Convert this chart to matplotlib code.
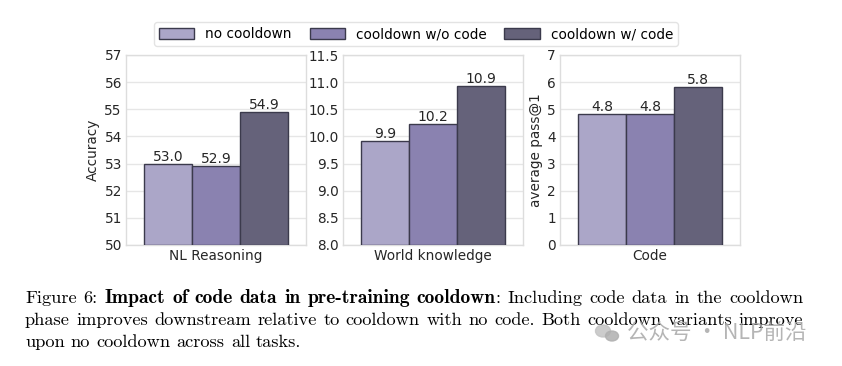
import numpy as np
import matplotlib.pyplot as plt
from matplotlib.patches import Patch, Ellipse

tasks = ["NL Reasoning", "World knowledge", "Code"]
variants = ["no cooldown", "cooldown w/o code", "cooldown w/ code"]
scores = [
    [53.0, 52.9, 54.9],
    [9.92, 10.22, 10.92],
    [4.83, 4.82, 5.83],
]
ylims = [(50, 57), (8.0, 11.5), (0, 7)]
ystep = [1, 0.5, 1]
ylabels = ["Accuracy", "", "average pass@1"]
colors = ["#aba6c8", "#8a82b0", "#65627a"]
edge = "#3b3a4c"

W, H = 842, 366
fig = plt.figure(figsize=(W / 100, H / 100), dpi=100)
lefts = [126, 343, 560]
width = 180 / W
bottom = 1 - 245 / H
height = (245 - 55) / H
fs = 9.8

for i, task in enumerate(tasks):
    ax = fig.add_axes([lefts[i] / W, bottom, width, height])
    w = 0.8 / 3
    for j, v in enumerate(scores[i]):
        x = -0.4 + w / 2 + j * w
        ax.bar(x, v - ylims[i][0], w, bottom=ylims[i][0], color=colors[j],
               edgecolor=edge, linewidth=1.0, zorder=3)
        ax.text(x, v, f"{v:.1f}", ha="center", va="bottom", fontsize=10,
                color="#262626", zorder=4)
    ax.set_xlim(-0.5, 0.5)
    ax.set_ylim(*ylims[i])
    lo, hi = ylims[i]
    ticks = np.arange(lo, hi + ystep[i] / 2, ystep[i])
    ax.set_yticks(ticks)
    if ystep[i] < 1:
        ax.set_yticklabels([f"{t:.1f}" for t in ticks])
    else:
        ax.set_yticklabels([f"{int(t)}" for t in ticks])
    ax.set_xticks([0])
    ax.set_xticklabels([task])
    ax.tick_params(axis="both", labelsize=fs, length=0, colors="#262626", pad=3)
    ax.grid(axis="y", color="#e6e6e6", linewidth=1, zorder=0)
    for s in ax.spines.values():
        s.set_color("#dddddd")
        s.set_linewidth(1)
    if ylabels[i]:
        ax.set_ylabel(ylabels[i], fontsize=fs, color="#262626", labelpad=3)

handles = [Patch(facecolor=c, edgecolor=edge, linewidth=1.0) for c in colors]
fig.legend(handles, variants, loc="center", bbox_to_anchor=(416 / W, 1 - 34 / H),
           ncol=3, fontsize=fs, frameon=True, edgecolor="#dddddd",
           handlelength=2.6, handleheight=0.9, columnspacing=1.3,
           borderpad=0.35, handletextpad=0.8)

# caption (justified like the paper)
reg_fs, bold_fs = 13.2, 14.1
cap_left, cap_right = 25, 803
baselines = [303, 325, 347]
R, B = "cmr10", "cmb10"
cap_lines = [
    [("Figure", R, 1), ("6:", R, 1), ("Impact", B, 1), ("of", B, 1), ("code", B, 1),
     ("data", B, 1), ("in", B, 1), ("pre-training", B, 1), ("cooldown", B, 1),
     (":", R, 0), ("Including", R, 1), ("code", R, 1), ("data", R, 1), ("in", R, 1),
     ("the", R, 1), ("cooldown", R, 1)],
    [(wd, R, 1) for wd in "phase improves downstream relative to cooldown with no code.  Both cooldown variants improve".split()],
    [(wd, R, 1) for wd in "upon no cooldown across all tasks.".split()],
]
justify = [True, True, False]

fig.canvas.draw()
r = fig.canvas.get_renderer()


def size_of(fam):
    return bold_fs if fam == B else reg_fs


def measure(txt, fam):
    t = fig.text(0, 0, txt, fontsize=size_of(fam), family=fam)
    wpx = t.get_window_extent(renderer=r).width
    t.remove()
    return wpx


space = measure("a b", R) - measure("ab", R)
for line, base, just in zip(cap_lines, baselines, justify):
    widths = [measure(t, f) for t, f, _ in line]
    ngaps = sum(g for _, _, g in line[1:])
    if just:
        gap = (cap_right - cap_left - sum(widths)) / ngaps
    else:
        gap = space
    x = cap_left
    for k, ((t, f, g), wpx) in enumerate(zip(line, widths)):
        if k > 0 and g:
            x += gap
        fig.text(x / W, 1 - base / H, t, fontsize=size_of(f), family=f,
                 va="baseline", ha="left")
        x += wpx

# watermark
fig.patches.append(Ellipse((603 / W, 1 - 331 / H), 15 / W, 12 / H,
                           transform=fig.transFigure, color="#c4c4c4", alpha=0.85))
fig.patches.append(Ellipse((612 / W, 1 - 336 / H), 13 / W, 10 / H,
                           transform=fig.transFigure, color="#b0b0b0", alpha=0.85))
fig.text(627 / W, 1 - 333 / H, "公众号 · NLP前沿", fontsize=15.5,
         family=["Noto Sans CJK SC", "DejaVu Sans"], color="#a8a8a8", alpha=0.85,
         va="center", ha="left")

fig.savefig("out.png", dpi=100)
